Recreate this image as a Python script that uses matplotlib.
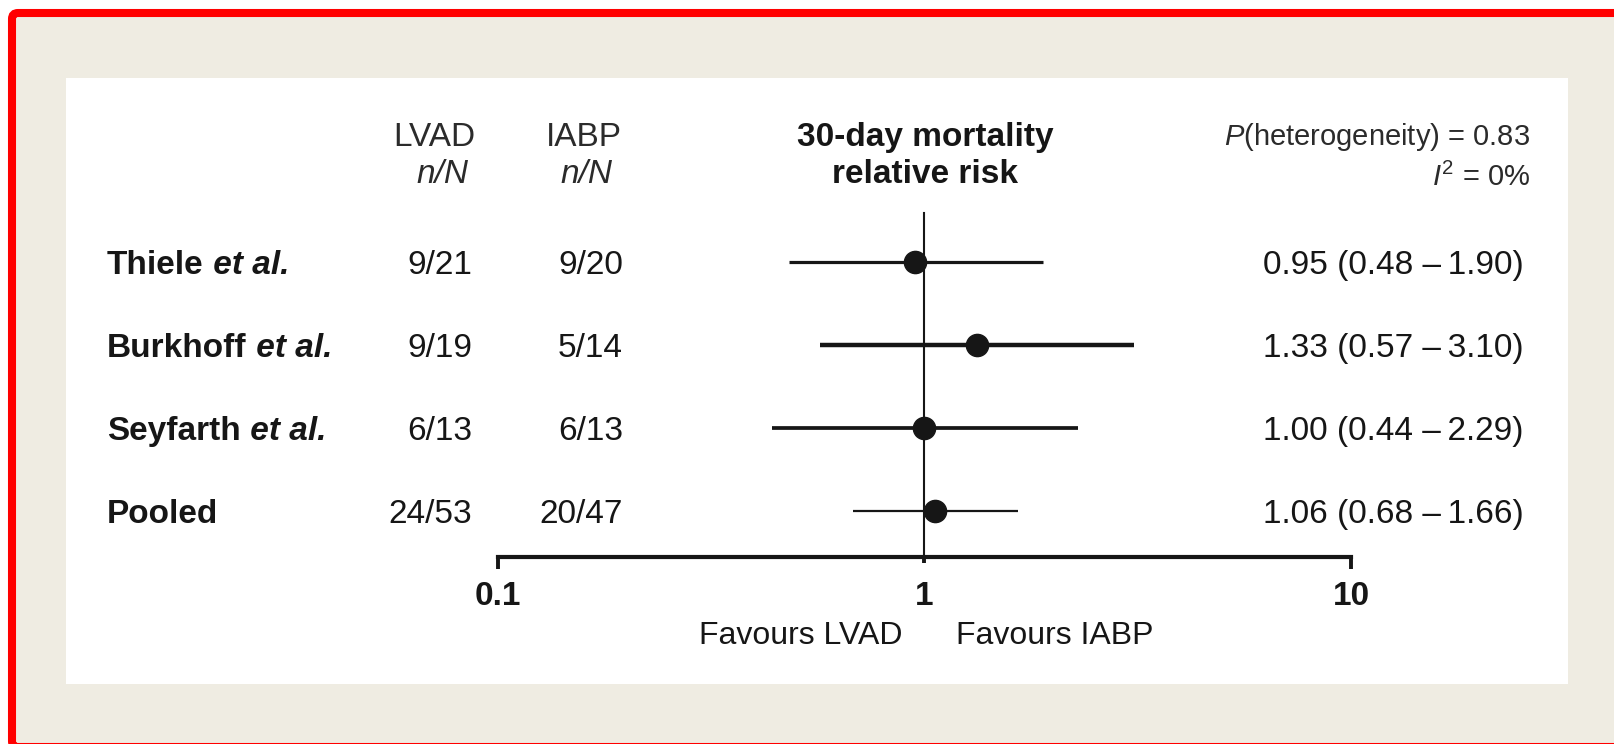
import matplotlib
matplotlib.use("Agg")
import matplotlib.pyplot as plt
import matplotlib.patches as mpatches
import matplotlib.transforms as mtransforms
from matplotlib.ticker import NullLocator

plt.rcParams["font.family"] = ["Liberation Sans", "DejaVu Sans"]
plt.rcParams["mathtext.fontset"] = "custom"
plt.rcParams["mathtext.rm"] = "Liberation Sans"
plt.rcParams["mathtext.it"] = "Liberation Sans:italic"

# data
STUDIES = ["Thiele", "Burkhoff", "Seyfarth", "Pooled"]
ET_AL = [True, True, True, False]
LVAD_N = ["9/21", "9/19", "6/13", "24/53"]
IABP_N = ["9/20", "5/14", "6/13", "20/47"]
RR = [0.95, 1.33, 1.00, 1.06]
CI_LOW = [0.48, 0.57, 0.44, 0.68]
CI_HIGH = [1.90, 3.10, 2.29, 1.66]
X_TICKS = [0.1, 1, 10]
X_TICK_LABELS = ["0.1", "1", "10"]
P_HET = "0.83"
I2 = "0%"

W, H = 1615, 744
INK = "#161616"
FS = 24


def fx(x):
    return x / W


def fy(y):
    return 1 - y / H


fig = plt.figure(figsize=(W / 100, H / 100), dpi=100)
fig.patch.set_facecolor("white")

# red rounded frame + beige background, drawn below the axes
frame = mpatches.FancyBboxPatch((12, -3), 1640, H - 13 + 3,
                                boxstyle="round,pad=0,rounding_size=6",
                                transform=mtransforms.IdentityTransform(),
                                fc="#efece2", ec="#ff0000", lw=5.8, zorder=-3)
fig.add_artist(frame)
panel = mpatches.Rectangle((fx(66), fy(684)), fx(1568 - 66), (684 - 78) / H,
                           transform=fig.transFigure, fc="white", ec="none",
                           zorder=-2)
fig.add_artist(panel)

# forest plot axes
row_top, row_gap = 262, 83
ax = fig.add_axes([fx(498), fy(557), fx(1351 - 498), (557 - 213) / H])
ax.patch.set_visible(False)
ax.set_xscale("log")
ax.set_xlim(0.1, 10)
ylim = (3 + (557 - (row_top + 3 * row_gap)) / row_gap, -(row_top - 213) / row_gap)
ax.set_ylim(*ylim)
for s in ["top", "left", "right"]:
    ax.spines[s].set_visible(False)
ax.spines["bottom"].set_linewidth(3)
ax.spines["bottom"].set_color(INK)
ax.set_yticks([])
ax.set_xticks(X_TICKS, X_TICK_LABELS)
ax.xaxis.set_minor_locator(NullLocator())
ax.tick_params(axis="x", length=8.5, width=2.8, pad=9, labelsize=FS,
               colors=INK, direction="out")
for lab in ax.get_xticklabels():
    lab.set_fontweight("bold")
ax.xaxis.get_major_ticks()[1].tick1line.set_markersize(4)

ax.plot([1, 1], ylim, color=INK, lw=1.5, zorder=1, clip_on=False)
line_w = [2.3, 3.2, 2.7, 1.6]
for i in range(len(STUDIES)):
    ax.plot([CI_LOW[i], CI_HIGH[i]], [i, i], color=INK, lw=line_w[i],
            solid_capstyle="butt", zorder=2)
    ax.plot(RR[i], i, "o", ms=16, color=INK, zorder=3, clip_on=False)

# table text, rows tied to the axes' y data
tr = mtransforms.blended_transform_factory(fig.transFigure, ax.transData)
for i, name in enumerate(STUDIES):
    t = fig.text(fx(107), i, name, transform=tr, fontsize=FS, fontweight="bold",
                 color=INK, va="center_baseline", ha="left")
    if ET_AL[i]:
        ax.annotate(" et al.", xy=(1, 0), xycoords=t, fontsize=FS,
                    fontweight="bold", style="italic", color=INK,
                    va="bottom", ha="left", annotation_clip=False)
    fig.text(fx(472), i, LVAD_N[i], transform=tr, fontsize=FS, color=INK,
             va="center_baseline", ha="right")
    fig.text(fx(623), i, IABP_N[i], transform=tr, fontsize=FS, color=INK,
             va="center_baseline", ha="right")
    ci = f"{RR[i]:.2f} ({CI_LOW[i]:.2f} \u2013\u2009{CI_HIGH[i]:.2f})"
    fig.text(fx(1524), i, ci, transform=tr, fontsize=FS, color=INK,
             va="center_baseline", ha="right")

# headers
hdr = "#2b2b2b"
fig.text(fx(434), fy(134), "LVAD", fontsize=FS, color=hdr, ha="center", va="center_baseline")
fig.text(fx(442), fy(171), "n/N", fontsize=FS, style="italic", color=hdr, ha="center", va="center_baseline")
fig.text(fx(584), fy(134), "IABP", fontsize=FS, color=hdr, ha="center", va="center_baseline")
fig.text(fx(586), fy(171), "n/N", fontsize=FS, style="italic", color=hdr, ha="center", va="center_baseline")
fig.text(fx(925), fy(134), "30-day mortality", fontsize=FS, fontweight="bold", color=INK,
         ha="center", va="center_baseline")
fig.text(fx(925), fy(171), "relative risk", fontsize=FS, fontweight="bold", color=INK,
         ha="center", va="center_baseline")
fig.text(fx(1530), fy(133), r"$\mathit{P}$(heterogeneity) = " + P_HET, fontsize=21,
         color=hdr, ha="right", va="center_baseline")
fig.text(fx(1530), fy(174), r"$\mathit{I}^{2}$ = " + I2, fontsize=21,
         color=hdr, ha="right", va="center_baseline")

# favours labels
fig.text(fx(903), fy(632), "Favours LVAD", fontsize=23, color=INK, ha="right", va="center_baseline")
fig.text(fx(956), fy(632), "Favours IABP", fontsize=23, color=INK, ha="left", va="center_baseline")

fig.savefig("out.png", dpi=100)
